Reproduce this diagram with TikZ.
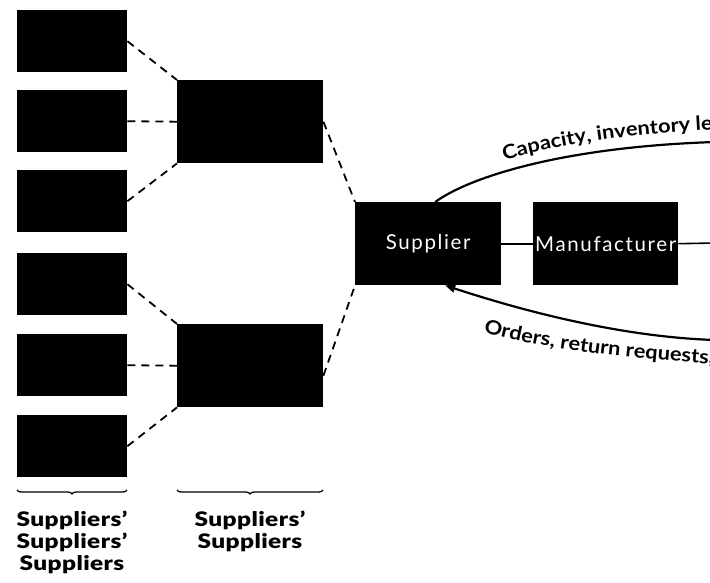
\documentclass[tikz,border=0pt]{standalone}
\usepackage{fontspec}
\setmainfont{Lato}
\newfontfamily\heavyfont[FakeStretch=1.22, LetterSpace=2]{Lato Black}
\newfontfamily\firmfont[LetterSpace=8]{Lato}
\newfontfamily\flowfont[FakeStretch=1.12]{Lato Bold}
\usetikzlibrary{decorations.text,decorations.pathreplacing,arrows.meta}

\tikzset{
  blk/.style={fill=black, draw=none, inner sep=0pt, anchor=north west},
  leaf/.style={blk, minimum width=110pt, minimum height=62pt},
  mid/.style={blk, minimum width=146pt, minimum height=83pt},
  firm/.style={blk, minimum width=146pt, minimum height=83pt,
    text=white, font=\firmfont\fontsize{20.5}{22}\selectfont},
  link/.style={dashed, dash pattern=on 8pt off 6pt, line width=1.8pt},
  solidlink/.style={line width=1.6pt},
  flow/.style={line width=2.2pt},
  braceline/.style={decorate, decoration={brace, mirror, amplitude=4pt}, line width=1.3pt},
  tierlabel/.style={align=center, font=\heavyfont\fontsize{20}{22}\selectfont}
}

\begin{document}
\begin{tikzpicture}[x=1pt, y=-1pt]
\useasboundingbox (0,0) rectangle (710,583);
\clip (0,0) rectangle (710,583);

% tier 3: suppliers' suppliers' suppliers
\node[leaf] (s1) at (17,10)  {};
\node[leaf] (s2) at (17,90)  {};
\node[leaf] (s3) at (17,170) {};
\node[leaf] (s4) at (17,253) {};
\node[leaf] (s5) at (17,334) {};
\node[leaf] (s6) at (17,415) {};

% tier 2: suppliers' suppliers
\node[mid] (mt) at (177,80)  {};
\node[mid] (mb) at (177,324) {};

% tier 1 and the manufacturer
\node[firm] (sup) at (355,202) {Supplier};
\node[firm, minimum width=145pt] (man) at (533,202) {Manufacturer};

% dashed tier links
\draw[link] (s1.east) -- (mt.north west);
\draw[link] (s2.east) -- (mt.west);
\draw[link] (s3.east) -- (mt.south west);
\draw[link] (s4.east) -- (mb.north west);
\draw[link] (s5.east) -- (mb.west);
\draw[link] (s6.east) -- (mb.south west);
\draw[link] (mt.east) -- (sup.north west);
\draw[link] ([yshift=-10pt]mb.east) -- (sup.south west);

% solid chain to the right
\coordinate (downstream) at (715,243);
\draw[solidlink] (sup.east) -- (man.west);
\draw[solidlink] (man.east) -- (downstream);

% information flows
\coordinate (capEnd) at (715,142);
\coordinate (ordStart) at (715,340);
\draw[flow] ([xshift=7pt]sup.north) .. controls (468,178) and (560,147) .. (capEnd);
\draw[flow, -{Triangle[length=10pt,width=8pt]}] (ordStart) .. controls (620,337) and (520,310) .. ([xshift=17pt]sup.south);

\path[decorate, decoration={text along path, text align={left indent=74pt},
  text={|\flowfont\fontsize{19.5}{21}\selectfont|Capacity, inventory levels}}]
  (437,190) .. controls (468,166) and (560,135) .. (735,129);
\path[decorate, decoration={text along path, text align={left indent=14pt},
  text={|\flowfont\fontsize{19.5}{21}\selectfont|Orders, return requests, }}]
  (470,328) .. controls (520,345) and (620,360) .. (735,365);

% tier braces and labels
\draw[braceline] (17,490) -- (127,490);
\draw[braceline] (177,490) -- (323,490);
\node[tierlabel] (l1) at (72,542) {Suppliers’\\Suppliers’\\Suppliers};
\node[tierlabel] (l2) at (250,531) {Suppliers’\\Suppliers};
\end{tikzpicture}
\end{document}
